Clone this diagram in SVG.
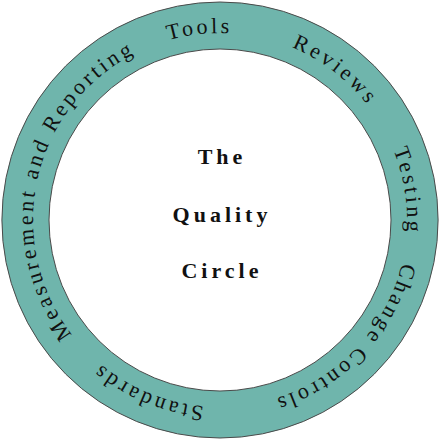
<svg xmlns="http://www.w3.org/2000/svg" xmlns:xlink="http://www.w3.org/1999/xlink" width="440" height="440" viewBox="0 0 440 440">
  <style>
    .ring { fill: #6fb5ac; stroke: #4a4a4a; stroke-width: 1; fill-rule: evenodd; }
    .lbl { font-family: "Liberation Serif", "Times New Roman", serif; font-size: 22px; letter-spacing: 3.2px; fill: #111; }
    .title { font-family: "Liberation Serif", "Times New Roman", serif; font-size: 22px; font-weight: bold; letter-spacing: 4px; fill: #111; text-anchor: middle; }
  </style>
  <defs>
    <path id="arc" d="M 220 407 A 187 187 0 1 1 220 33 A 187 187 0 1 1 220 407"/>
  </defs>
  <rect width="440" height="440" fill="#ffffff"/>
  <g id="ring">
    <path class="ring" d="M 220 2 A 218 218 0 1 1 220 438 A 218 218 0 1 1 220 2 Z M 220 49 A 171 171 0 1 0 220 391 A 171 171 0 1 0 220 49 Z"/>
  </g>
  <g id="standards"><text class="lbl"><textPath xlink:href="#arc" href="#arc" startOffset="16">Standards</textPath></text></g>
  <g id="measurement"><text class="lbl"><textPath xlink:href="#arc" href="#arc" startOffset="170">Measurement and Reporting</textPath></text></g>
  <g id="tools"><text class="lbl"><textPath xlink:href="#arc" href="#arc" startOffset="535">Tools</textPath></text></g>
  <g id="reviews"><text class="lbl"><textPath xlink:href="#arc" href="#arc" startOffset="661">Reviews</textPath></text></g>
  <g id="testing"><text class="lbl"><textPath xlink:href="#arc" href="#arc" startOffset="809">Testing</textPath></text></g>
  <g id="change"><text class="lbl"><textPath xlink:href="#arc" href="#arc" startOffset="924">Change Controls</textPath></text></g>
  <g id="center">
    <text class="title" x="222" y="164">The</text>
    <text class="title" x="222" y="222">Quality</text>
    <text class="title" x="222" y="278">Circle</text>
  </g>
  <g id="connectors"></g>
</svg>
